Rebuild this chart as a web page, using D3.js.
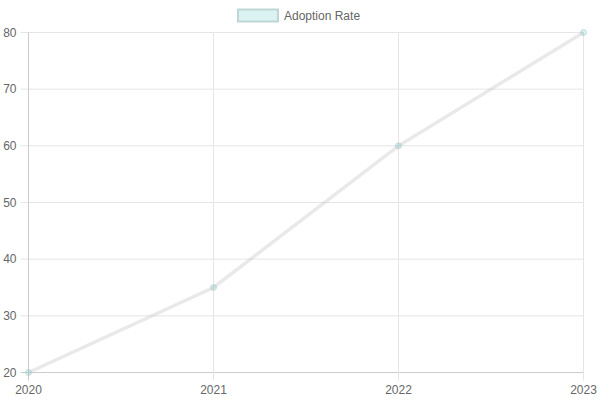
<html>
<head>
<script src="https://d3js.org/d3.v7.min.js"></script>
<style>
body { margin: 0; background: #fff; }
text { font-family: "Liberation Sans", Arial, sans-serif; font-size: 12px; fill: #666; }
</style>
</head>
<body>
<script>
var years = ["2020", "2021", "2022", "2023"];
var adoption = [20, 35, 60, 80];
var yTicks = [20, 30, 40, 50, 60, 70, 80];
var seriesName = "Adoption Rate";

var width = 600, height = 400;
var margin = {left: 28.5, right: 16.5, top: 32.5, bottom: 27.5};

var svg = d3.select("body").append("svg")
  .attr("width", width)
  .attr("height", height);

var x = d3.scalePoint().domain(years).range([margin.left, width - margin.right]);
var y = d3.scaleLinear().domain([20, 80]).range([height - margin.bottom, margin.top]);

// grid
var grid = svg.append("g");
grid.selectAll(".hg").data(yTicks).enter().append("line")
  .attr("x1", margin.left - 8).attr("x2", width - margin.right)
  .attr("y1", function(d){ return y(d); }).attr("y2", function(d){ return y(d); })
  .attr("stroke", function(d){ return d === 20 ? "#ccc" : "#e5e5e5"; })
  .attr("stroke-width", 1);
grid.selectAll(".vg").data(years).enter().append("line")
  .attr("x1", function(d){ return x(d); }).attr("x2", function(d){ return x(d); })
  .attr("y1", margin.top).attr("y2", height - margin.bottom + 8)
  .attr("stroke", function(d, i){ return i === 0 ? "#ccc" : "#e5e5e5"; })
  .attr("stroke-width", 1);

// y labels
svg.selectAll(".yl").data(yTicks).enter().append("text")
  .attr("x", margin.left - 12).attr("y", function(d){ return y(d); })
  .attr("dy", "0.35em").attr("text-anchor", "end")
  .text(function(d){ return d; });

// x labels
svg.selectAll(".xl").data(years).enter().append("text")
  .attr("x", function(d){ return x(d); }).attr("y", height - margin.bottom + 21)
  .attr("text-anchor", "middle")
  .text(function(d){ return d; });

// line
var line = d3.line()
  .x(function(d, i){ return x(years[i]); })
  .y(function(d){ return y(d); });

svg.append("path")
  .attr("d", line(adoption))
  .attr("fill", "none")
  .attr("stroke", "rgba(200,200,200,0.4)")
  .attr("stroke-width", 3.5);

svg.selectAll(".pt").data(adoption).enter().append("circle")
  .attr("cx", function(d, i){ return x(years[i]); })
  .attr("cy", function(d){ return y(d); })
  .attr("r", 3)
  .attr("fill", "rgba(75,192,192,0.2)")
  .attr("stroke", "rgba(180,200,200,0.6)")
  .attr("stroke-width", 1);

// legend
var lg = svg.append("g");
lg.append("rect")
  .attr("x", 238).attr("y", 9.5).attr("width", 40).attr("height", 12)
  .attr("fill", "rgba(75,192,192,0.2)")
  .attr("stroke", "rgba(190,215,212,1)")
  .attr("stroke-width", 2);
lg.append("text")
  .attr("x", 284).attr("y", 16).attr("dy", "0.35em")
  .text(seriesName);
</script>
</body>
</html>
